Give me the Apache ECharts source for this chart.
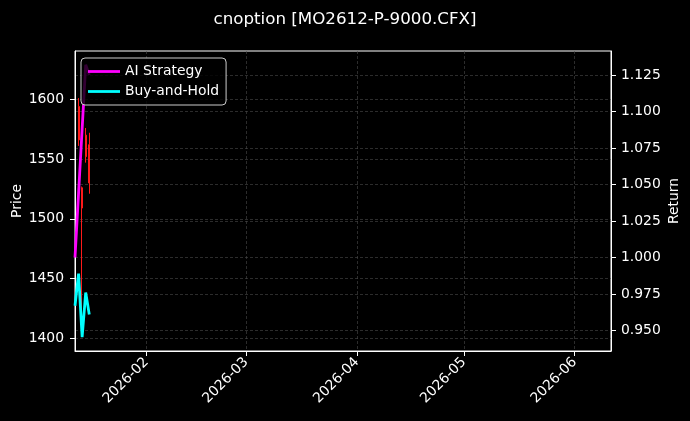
<!DOCTYPE html>
<html>
<head>
<meta charset="utf-8">
<script src="https://cdn.jsdelivr.net/npm/echarts@6/dist/echarts.min.js"></script>
<style>
html,body{margin:0;padding:0;background:#000;}
#chart{width:690px;height:421px;}
</style>
</head>
<body>
<div id="chart"></div>
<script>
// ---- data ----
const lineDates = ['2026-01-12','2026-01-13','2026-01-14','2026-01-15','2026-01-16'];
const aiStrategy = [1.000, 1.044, 1.088, 1.132, 1.125];
const buyHold = [0.967, 0.989, 0.9455, 0.976, 0.961];

const candleDates = ['2026-01-13','2026-01-14','2026-01-15','2026-01-16'];
const opens  = [1594, 1526, 1552, 1530];
const closes = [1566, 1509, 1570, 1562];
const lows   = [1561, 1402, 1547, 1521];
const highs  = [1601, 1527, 1576, 1572];

const priceTicks = [1400, 1450, 1500, 1550, 1600];
const returnTicks = [0.950, 0.975, 1.000, 1.025, 1.050, 1.075, 1.100, 1.125];
const monthTicks = ['2026-02-01','2026-03-01','2026-04-01','2026-05-01','2026-06-01'];
const xRange = ['2026-01-12', '2026-06-11'];

const ts = s => { const [y,m,d] = s.split('-').map(Number); return Date.UTC(y, m-1, d); };
const pad = n => (n < 10 ? '0' : '') + n;

const font = 'DejaVu Sans';
const fs = 13.9;
const gridLine = { show: true, lineStyle: { color: '#4a4a4a', width: 0.6, type: [3, 2] } };

const chart = echarts.init(document.getElementById('chart'), null, { renderer: 'canvas' });
chart.setOption({
  backgroundColor: '#000',
  animation: false,
  title: {
    text: 'cnoption [MO2612-P-9000.CFX]',
    left: 'center', top: 6,
    textStyle: { color: '#fff', fontFamily: font, fontSize: 16.7, fontWeight: 'normal' }
  },
  grid: { left: 75, top: 51, width: 536, height: 300, outerBoundsMode: 'none', containLabel: false,
    show: true, borderColor: '#fff', borderWidth: 1, backgroundColor: 'transparent' },
  legend: {
    left: 81, top: 58, orient: 'vertical', z: 10,
    padding: [6, 7, 6, 7], itemGap: 5, itemWidth: 32, itemHeight: 2.8,
    backgroundColor: 'rgba(0,0,0,0.8)', borderColor: '#ccc', borderWidth: 1, borderRadius: 4,
    textStyle: { color: '#fff', fontFamily: font, fontSize: fs, lineHeight: 15 },
    data: [{ name: 'AI Strategy', icon: 'rect' }, { name: 'Buy-and-Hold', icon: 'rect' }]
  },
  xAxis: {
    type: 'value',
    min: ts(xRange[0]), max: ts(xRange[1]) + 5 * 3600 * 1000,
    axisLine: { show: true, lineStyle: { color: '#fff' } },
    axisTick: { show: true, length: 5, lineStyle: { color: '#fff' }, customValues: monthTicks.map(ts) },
    axisLabel: {
      color: '#fff', fontFamily: font, fontSize: fs, rotate: 45, margin: 9,
      customValues: monthTicks.map(ts),
      formatter: v => { const d = new Date(v); return d.getUTCFullYear() + '-' + pad(d.getUTCMonth() + 1); }
    },
    splitLine: gridLine
  },
  yAxis: [
    {
      type: 'value', position: 'left', min: 1389.4, max: 1640.4,
      name: 'Price', nameLocation: 'middle', nameGap: 51, nameRotate: 90, nameMoveOverlap: false,
      nameTextStyle: { color: '#fff', fontFamily: font, fontSize: fs },
      axisLine: { show: true, lineStyle: { color: '#fff' } },
      axisTick: { show: true, length: 5, lineStyle: { color: '#fff' }, customValues: priceTicks },
      axisLabel: { color: '#fff', fontFamily: font, fontSize: fs, margin: 11, customValues: priceTicks,
        formatter: v => String(v) },
      splitLine: gridLine
    },
    {
      type: 'value', position: 'right', min: 0.9360, max: 1.1414,
      name: 'Return', nameLocation: 'middle', nameGap: 56, nameRotate: 90, nameMoveOverlap: false,
      nameTextStyle: { color: '#fff', fontFamily: font, fontSize: fs },
      axisLine: { show: true, lineStyle: { color: '#fff' } },
      axisTick: { show: true, length: 5, lineStyle: { color: '#fff' }, customValues: returnTicks },
      axisLabel: { color: '#fff', fontFamily: font, fontSize: fs, margin: 10, customValues: returnTicks,
        formatter: v => v.toFixed(3) },
      splitLine: gridLine
    }
  ],
  series: [
    {
      type: 'candlestick', name: 'Price', xAxisIndex: 0, yAxisIndex: 0, barWidth: 1.6, z: 2,
      itemStyle: { color: '#ff1a1a', color0: '#ff1a1a', borderColor: '#ff1a1a', borderColor0: '#ff1a1a', borderWidth: 1 },
      data: candleDates.map((d, i) => [ts(d), opens[i], closes[i], lows[i], highs[i]])
    },
    {
      type: 'line', name: 'AI Strategy', xAxisIndex: 0, yAxisIndex: 1, z: 3,
      showSymbol: false, lineStyle: { color: '#ff00ff', width: 2.8 }, itemStyle: { color: '#ff00ff' },
      data: lineDates.map((d, i) => [ts(d), aiStrategy[i]])
    },
    {
      type: 'line', name: 'Buy-and-Hold', xAxisIndex: 0, yAxisIndex: 1, z: 3,
      showSymbol: false, lineStyle: { color: '#00ffff', width: 2.8 }, itemStyle: { color: '#00ffff' },
      data: lineDates.map((d, i) => [ts(d), buyHold[i]])
    }
  ]
});
</script>
</body>
</html>
